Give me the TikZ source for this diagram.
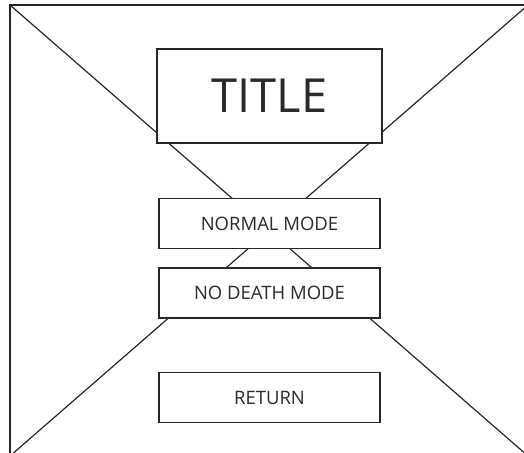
\documentclass[tikz,border=0pt]{standalone}
\usepackage{fontspec}
\setmainfont{Open Sans}
\usepackage{tikz}
\usetikzlibrary{positioning}
\definecolor{xline}{HTML}{262626}
\definecolor{xtext}{HTML}{2A2A2A}
\tikzset{
	frame/.style={line width=1.2pt, draw=xline},
	menubox/.style={rectangle, draw=xline, fill=white, line width=1.2pt, text=xtext,
		minimum width=221pt, minimum height=50pt, inner sep=0pt, font=\fontsize{18.5}{20}\selectfont},
	titlebox/.style={menubox, minimum width=225pt, minimum height=94pt, font=\fontsize{47}{50}\selectfont},
}

\begin{document}
\begin{tikzpicture}[x=1pt, y=-1pt]
	\useasboundingbox (0,0) rectangle (524,452);
% Frame with crossing lines
		\coordinate (TL) at (10,5);
		\coordinate (TR) at (528,5);
		\coordinate (BL) at (10,456);
		\coordinate (BR) at (528,456);
		\draw[frame] (TL) rectangle (BR);
		\draw[frame] (TL) -- (BR);
		\draw[frame] (BL) -- (TR);

% Menu
		\node[titlebox] (title) at (269.5,96) {TITLE};
		\node[menubox] (normal) at (269.5,223.5) {NORMAL MODE};
		\node[menubox] (nodeath) at (269.5,293) {NO DEATH MODE};
		\node[menubox] (return) at (269.5,397.5) {RETURN};
	\end{tikzpicture}
\end{document}
